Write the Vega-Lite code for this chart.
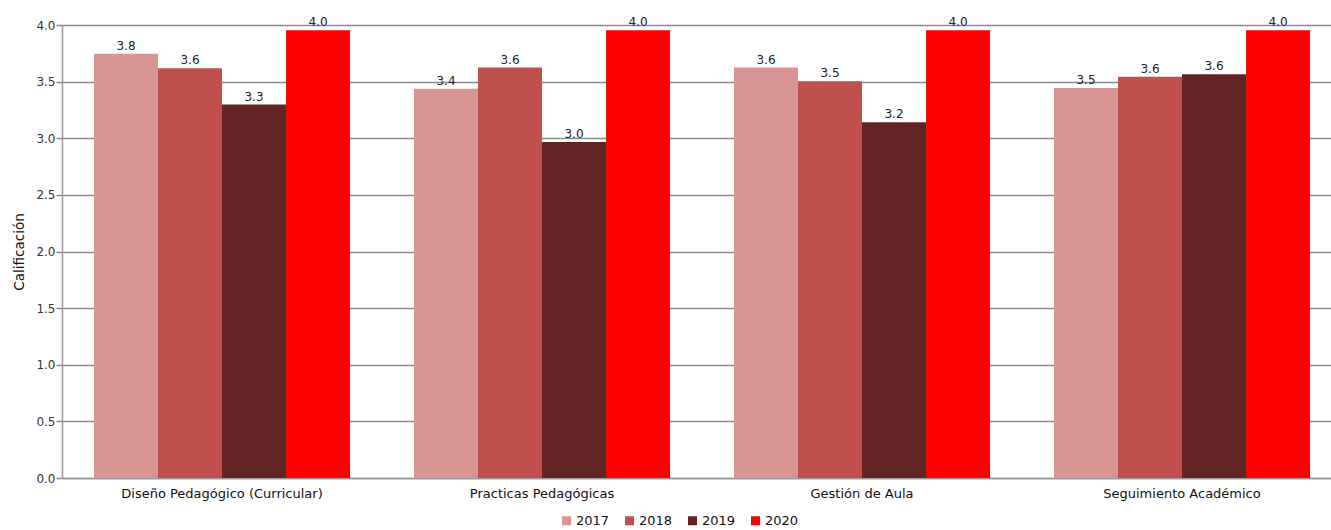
{
  "$schema": "https://vega.github.io/schema/vega-lite/v6.json",
  "autosize": {"type": "none"},
  "padding": {"left": 62, "top": 25, "right": 0, "bottom": 52},
  "width": 1269,
  "height": 453,
  "config": {
    "font": "DejaVu Sans",
    "view": {"stroke": null}
  },
  "data": {
    "values": [
      {"categoria": "Diseño Pedagógico (Curricular)", "anio": "2017", "valor": 3.747, "etiqueta": "3.8"},
      {"categoria": "Diseño Pedagógico (Curricular)", "anio": "2018", "valor": 3.618, "etiqueta": "3.6"},
      {"categoria": "Diseño Pedagógico (Curricular)", "anio": "2019", "valor": 3.297, "etiqueta": "3.3"},
      {"categoria": "Diseño Pedagógico (Curricular)", "anio": "2020", "valor": 3.953, "etiqueta": "4.0"},
      {"categoria": "Practicas Pedagógicas", "anio": "2017", "valor": 3.438, "etiqueta": "3.4"},
      {"categoria": "Practicas Pedagógicas", "anio": "2018", "valor": 3.624, "etiqueta": "3.6"},
      {"categoria": "Practicas Pedagógicas", "anio": "2019", "valor": 2.967, "etiqueta": "3.0"},
      {"categoria": "Practicas Pedagógicas", "anio": "2020", "valor": 3.953, "etiqueta": "4.0"},
      {"categoria": "Gestión de Aula", "anio": "2017", "valor": 3.624, "etiqueta": "3.6"},
      {"categoria": "Gestión de Aula", "anio": "2018", "valor": 3.503, "etiqueta": "3.5"},
      {"categoria": "Gestión de Aula", "anio": "2019", "valor": 3.141, "etiqueta": "3.2"},
      {"categoria": "Gestión de Aula", "anio": "2020", "valor": 3.953, "etiqueta": "4.0"},
      {"categoria": "Seguimiento Académico", "anio": "2017", "valor": 3.444, "etiqueta": "3.5"},
      {"categoria": "Seguimiento Académico", "anio": "2018", "valor": 3.544, "etiqueta": "3.6"},
      {"categoria": "Seguimiento Académico", "anio": "2019", "valor": 3.565, "etiqueta": "3.6"},
      {"categoria": "Seguimiento Académico", "anio": "2020", "valor": 3.953, "etiqueta": "4.0"}
    ]
  },
  "encoding": {
    "x": {
      "field": "categoria",
      "type": "nominal",
      "sort": null,
      "scale": {"range": [0, 1280], "paddingInner": 0.2, "paddingOuter": 0.1},
      "axis": {
        "title": null,
        "labelAngle": 0,
        "labelFontSize": 13,
        "labelLimit": 0,
        "labelColor": "#111",
        "labelPadding": 9,
        "ticks": false,
        "domainColor": "#999",
        "domainWidth": 1.5,
        "grid": false
      }
    },
    "xOffset": {"field": "anio", "type": "nominal", "scale": {"paddingInner": 0, "paddingOuter": 0}},
    "y": {
      "field": "valor",
      "type": "quantitative",
      "scale": {"domain": [0, 4], "nice": false},
      "axis": {
        "title": "Calificación",
        "titleFontSize": 13.5,
        "titleFontWeight": "normal",
        "titleColor": "#111",
        "titlePadding": 9,
        "values": [0, 0.5, 1, 1.5, 2, 2.5, 3, 3.5, 4],
        "format": ".1f",
        "labelFontSize": 12,
        "labelColor": "#333",
        "labelPadding": 1,
        "tickColor": "#888",
        "tickSize": 6,
        "tickWidth": 1.5,
        "domainColor": "#999",
        "domainWidth": 1.5,
        "gridColor": "#8c8c8c",
        "gridWidth": 1.5
      }
    }
  },
  "layer": [
    {
      "mark": {"type": "bar"},
      "encoding": {
        "color": {
          "field": "anio",
          "type": "nominal",
          "scale": {"domain": ["2017", "2018", "2019", "2020"], "range": ["#d99494", "#c0504d", "#632523", "#ff0000"]},
          "legend": {
            "title": null,
            "orient": "none",
            "direction": "horizontal",
            "legendX": 498,
            "legendY": 489,
            "symbolType": "square",
            "symbolSize": 81,
            "symbolStrokeWidth": 0,
            "labelFontSize": 13,
            "labelColor": "#111",
            "labelOffset": 3,
            "columnPadding": 13
          }
        }
      }
    },
    {
      "mark": {"type": "text", "baseline": "bottom", "dy": -1, "fontSize": 12, "color": "#222"},
      "encoding": {
        "text": {"field": "etiqueta", "type": "nominal"}
      }
    }
  ]
}
